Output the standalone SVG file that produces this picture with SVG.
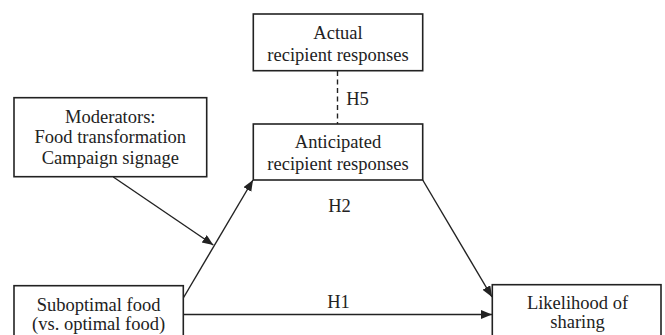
<svg xmlns="http://www.w3.org/2000/svg" width="665" height="335" viewBox="0 0 665 335">
<defs>
<style>
.box{fill:#fff;stroke:#222;stroke-width:1.6}
.t{font-family:"Liberation Serif","Times New Roman",serif;font-size:18.5px;fill:#222;text-anchor:middle}
.c{stroke:#222;stroke-width:1.4;fill:none}
</style>
<marker id="ah" markerUnits="userSpaceOnUse" markerWidth="12" markerHeight="10" viewBox="0 0 12 10" refX="11" refY="4.5" orient="auto">
<path d="M0,0 L11,4.5 L0,9 Z" fill="#222"/>
</marker>
</defs>
<rect width="665" height="335" fill="#fff"/>
<g id="connectors">
<line class="c" x1="337.5" y1="71" x2="337.5" y2="124" stroke-dasharray="5,3.5"/>
<line class="c" x1="183.3" y1="298" x2="253" y2="180" marker-end="url(#ah)"/>
<line class="c" x1="113.3" y1="177" x2="213.3" y2="245" marker-end="url(#ah)"/>
<line class="c" x1="422.7" y1="180" x2="492" y2="297" marker-end="url(#ah)"/>
<line class="c" x1="183.3" y1="314.5" x2="492" y2="314.5" marker-end="url(#ah)"/>
<text class="t" x="357.5" y="105">H5</text>
<text class="t" x="339.5" y="211.5">H2</text>
<text class="t" x="338.5" y="307.5">H1</text>
</g>
<g id="actual">
<rect class="box" x="253.3" y="14" width="169.4" height="56.7"/>
<text class="t" x="338" y="39">Actual</text>
<text class="t" x="338" y="60.5">recipient responses</text>
</g>
<g id="anticipated">
<rect class="box" x="253.3" y="124" width="169.4" height="56"/>
<text class="t" x="338" y="148.3">Anticipated</text>
<text class="t" x="338" y="169.5">recipient responses</text>
</g>
<g id="moderators">
<rect class="box" x="14" y="97.7" width="192.7" height="79"/>
<text class="t" x="110.3" y="122.7">Moderators:</text>
<text class="t" x="110.3" y="143.3">Food transformation</text>
<text class="t" x="110.3" y="163.5">Campaign signage</text>
</g>
<g id="suboptimal">
<rect class="box" x="14" y="285.7" width="169.3" height="60"/>
<text class="t" x="98.6" y="311">Suboptimal food</text>
<text class="t" x="98.6" y="330">(vs. optimal food)</text>
</g>
<g id="likelihood">
<rect class="box" x="492.3" y="284.7" width="168.7" height="60"/>
<text class="t" x="577.5" y="309.3">Likelihood of</text>
<text class="t" x="577.5" y="328.3">sharing</text>
</g>
</svg>
